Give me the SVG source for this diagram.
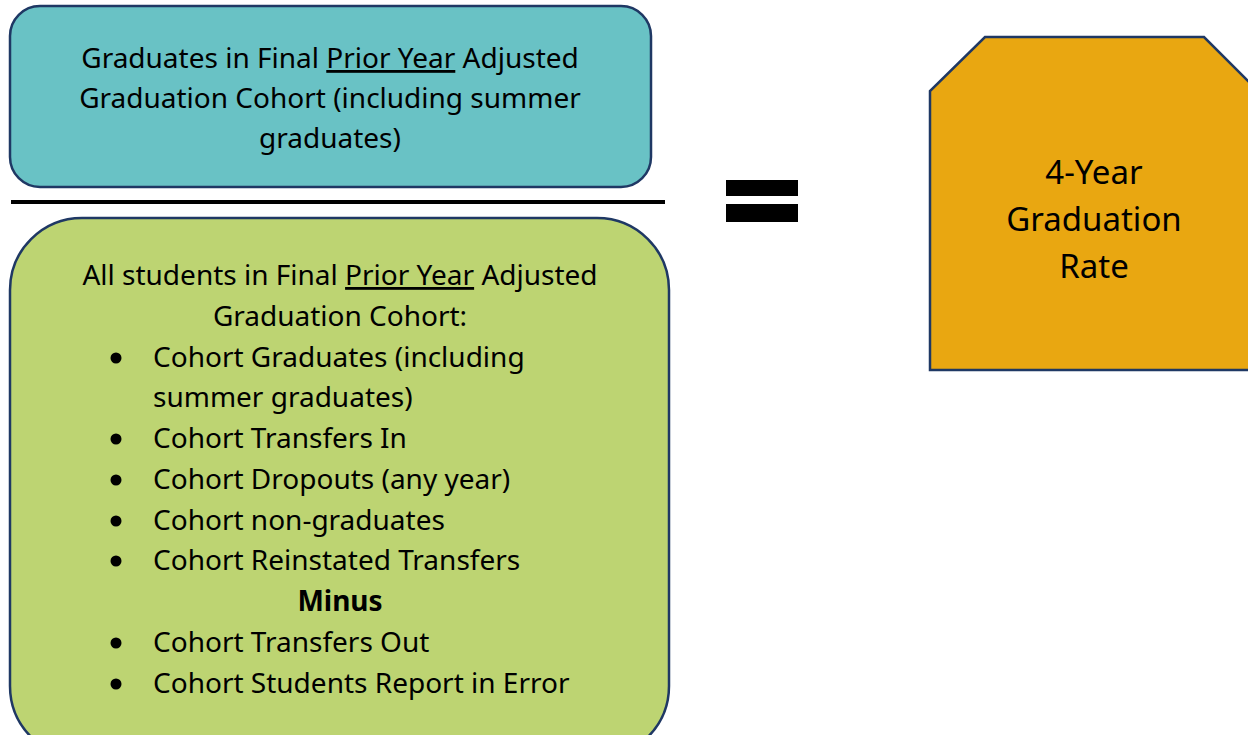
<svg xmlns="http://www.w3.org/2000/svg" width="1248" height="735" viewBox="0 0 1248 735">
<style>
.t{font-family:"Noto Sans","Open Sans",sans-serif;font-size:28px;fill:#000}
.big{font-size:33px}
.c{text-anchor:middle}
.u{text-decoration:underline}
.box{stroke:#1F3864;stroke-width:2.5}
</style>
<rect width="1248" height="735" fill="#fff"/>
<g id="numerator">
<rect class="box" x="10" y="6" width="641" height="181" rx="30" fill="#69C2C5"/>
<text class="t c" x="330" y="68">Graduates in Final <tspan class="u">Prior Year</tspan> Adjusted</text>
<text class="t c" x="330" y="108">Graduation Cohort (including summer</text>
<text class="t c" x="330" y="148">graduates)</text>
</g>
<g id="fraction-line">
<rect x="11" y="200" width="654" height="4" fill="#000"/>
</g>
<g id="denominator">
<rect class="box" x="10" y="218" width="659" height="540" rx="72" fill="#BDD472"/>
<text class="t c" x="340" y="285">All students in Final <tspan class="u">Prior Year</tspan> Adjusted</text>
<text class="t c" x="340" y="326">Graduation Cohort:</text>
<g fill="#000">
<circle cx="116" cy="358" r="5.5"/>
<circle cx="116" cy="439" r="5.5"/>
<circle cx="116" cy="480" r="5.5"/>
<circle cx="116" cy="521" r="5.5"/>
<circle cx="116" cy="561" r="5.5"/>
<circle cx="116" cy="643" r="5.5"/>
<circle cx="116" cy="684" r="5.5"/>
</g>
<text class="t" x="153" y="367">Cohort Graduates (including</text>
<text class="t" x="153" y="407">summer graduates)</text>
<text class="t" x="153" y="448">Cohort Transfers In</text>
<text class="t" x="153" y="489">Cohort Dropouts (any year)</text>
<text class="t" x="153" y="530">Cohort non-graduates</text>
<text class="t" x="153" y="570">Cohort Reinstated Transfers</text>
<text class="t c" x="340" y="611" font-weight="bold">Minus</text>
<text class="t" x="153" y="652">Cohort Transfers Out</text>
<text class="t" x="153" y="693">Cohort Students Report in Error</text>
</g>
<g id="equals">
<rect x="726" y="180" width="72" height="16" fill="#000"/>
<rect x="726" y="204" width="72" height="18" fill="#000"/>
</g>
<g id="result">
<polygon class="box" points="985,37 1204,37 1258,91 1258,370 930,370 930,91" fill="#E9A711"/>
<text class="t big c" x="1094" y="184">4-Year</text>
<text class="t big c" x="1094" y="231">Graduation</text>
<text class="t big c" x="1094" y="278">Rate</text>
</g>
</svg>
